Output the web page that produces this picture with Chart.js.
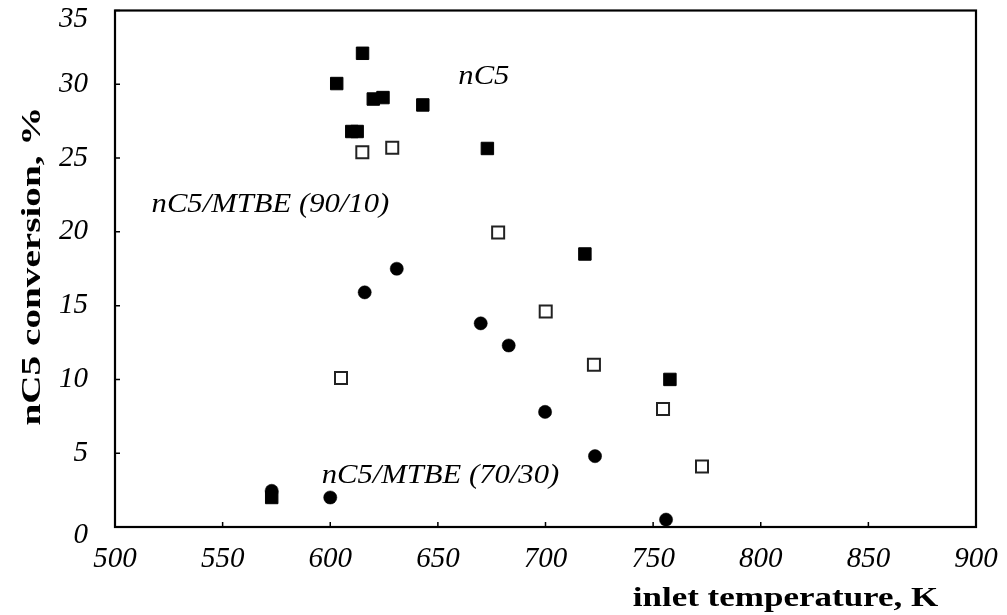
<!DOCTYPE html>
<html>
<head>
<meta charset="utf-8">
<title>nC5 conversion vs inlet temperature</title>
<script src="https://cdn.jsdelivr.net/npm/chart.js@4"></script>
<style>
  html, body { margin: 0; padding: 0; background: #fff; }
  #wrap { width: 1007px; height: 615px; }
</style>
</head>
<body>
<div id="wrap"><canvas id="chartConv"></canvas></div>
<script>
/* =========================
   DATA
========================= */
// nC5 alone - filled squares
const nc5Temp = [615.0, 603.0, 620.0, 624.5, 643.0, 610.0, 612.5, 673.0, 718.3, 757.8, 572.8];
const nc5Conv = [32.1, 30.05, 29.0, 29.1, 28.6, 26.8, 26.8, 25.65, 18.5, 10.0, 2.0];

// nC5/MTBE (90/10) - open squares
const mix9010Temp = [614.9, 628.8, 678.0, 700.1, 605.0, 722.5, 754.6, 772.7];
const mix9010Conv = [25.4, 25.7, 19.95, 14.6, 10.1, 11.0, 8.0, 4.1];

// nC5/MTBE (70/30) - filled circles
const mix7030Temp = [572.8, 600.0, 616.0, 630.9, 669.9, 682.9, 699.8, 723.0, 756.0];
const mix7030Conv = [2.45, 2.0, 15.9, 17.5, 13.8, 12.3, 7.8, 4.8, 0.5];

// axis ranges / ticks
const xMin = 500, xMax = 900, xStep = 50;
const yMin = 0, yMax = 35, yStep = 5;
// end labels of the y axis sit a little below their tick in the figure
const yLowered = [0, 35];

// series labels written inside the plot  [text, x, y]
const seriesNotes = [
  ["nC5", 659.5, 30.5],
  ["nC5/MTBE (90/10)", 517.0, 21.85],
  ["nC5/MTBE (70/30)", 596.0, 3.45]
];

const xTitle = "inlet temperature, K";
const yTitle = "nC5 conversion, %";

/* =========================
   HELPERS
========================= */
const SERIF = '"Liberation Serif", "Times New Roman", serif';

function toPoints(xs, ys) {
  return xs.map((x, i) => ({ x: x, y: ys[i] }));
}

// text in the source figure is a bit wider than Liberation Serif
function wideText(ctx, text, x, y, k) {
  ctx.save();
  ctx.translate(x, y);
  ctx.scale(k, 1);
  ctx.fillText(text, 0, 0);
  ctx.restore();
}

/* =========================
   PLUGIN: frame, inward ticks, text
========================= */
const framePlugin = {
  id: "frame",
  afterDraw(chart) {
    const { ctx, chartArea: a, scales } = chart;
    const sx = scales.x, sy = scales.y;
    ctx.save();

    // box
    ctx.strokeStyle = "#000";
    ctx.lineWidth = 2.2;
    ctx.strokeRect(a.left, a.top, a.right - a.left, a.bottom - a.top);

    // inward tick marks
    ctx.lineWidth = 1.5;
    ctx.beginPath();
    sx.ticks.forEach(t => {
      const px = sx.getPixelForValue(t.value);
      ctx.moveTo(px, a.bottom);
      ctx.lineTo(px, a.bottom - 5);
    });
    sy.ticks.forEach(t => {
      const py = sy.getPixelForValue(t.value);
      ctx.moveTo(a.left, py);
      ctx.lineTo(a.left + 5, py);
    });
    ctx.stroke();

    // series notes
    ctx.fillStyle = "#000";
    ctx.font = "italic 28px " + SERIF;
    ctx.textAlign = "left";
    ctx.textBaseline = "middle";
    seriesNotes.forEach(n => {
      wideText(ctx, n[0], sx.getPixelForValue(n[1]), sy.getPixelForValue(n[2]), 1.095);
    });

    // axis titles
    ctx.font = "bold 28px " + SERIF;
    ctx.textAlign = "center";
    ctx.textBaseline = "alphabetic";
    wideText(ctx, xTitle, 785.5, 606, 1.25);

    ctx.translate(33, 266);
    ctx.rotate(-Math.PI / 2);
    ctx.textBaseline = "middle";
    wideText(ctx, yTitle, 0, 0, 1.4);

    ctx.restore();
  }
};

/* =========================
   CHART
========================= */
const xTickFont = { family: SERIF, size: 29, style: "italic" };
const yTickFont = { family: SERIF, size: 29, style: "italic", lineHeight: 0.6 };

new Chart(document.getElementById("chartConv"), {
  type: "scatter",
  data: {
    datasets: [
      {
        label: "nC5",
        data: toPoints(nc5Temp, nc5Conv),
        pointStyle: "rect",
        pointRadius: 8.8,
        borderWidth: 1,
        backgroundColor: "#000",
        borderColor: "#000"
      },
      {
        label: "nC5/MTBE (90/10)",
        data: toPoints(mix9010Temp, mix9010Conv),
        pointStyle: "rect",
        pointRadius: 8.5,
        borderWidth: 2,
        backgroundColor: "#fff",
        borderColor: "#222"
      },
      {
        label: "nC5/MTBE (70/30)",
        data: toPoints(mix7030Temp, mix7030Conv),
        pointStyle: "circle",
        pointRadius: 6.6,
        borderWidth: 0.5,
        backgroundColor: "#000",
        borderColor: "#000"
      }
    ]
  },
  options: {
    responsive: true,
    maintainAspectRatio: false,
    animation: false,
    layout: { padding: { top: 9.5, right: 31, bottom: 0, left: 0 } },
    plugins: {
      legend: { display: false },
      tooltip: { enabled: false }
    },
    scales: {
      x: {
        type: "linear",
        min: xMin,
        max: xMax,
        grid: { display: false },
        border: { display: false },
        ticks: { stepSize: xStep, color: "#000", font: xTickFont, padding: 7, maxRotation: 0 },
        afterFit(scale) {
          scale.height = 88;
          scale.paddingLeft = 0;
          scale.paddingRight = 0;
        }
      },
      y: {
        min: yMin,
        max: yMax,
        grid: { display: false },
        border: { display: false },
        ticks: {
          stepSize: yStep,
          color: "#000",
          font: yTickFont,
          padding: 19,
          // empty first line pushes the end labels down a bit
          callback: v => yLowered.includes(v) ? ["", String(v)] : String(v)
        },
        afterFit(scale) {
          scale.width = 115;
          scale.paddingTop = 0;
          scale.paddingBottom = 0;
        }
      }
    }
  },
  plugins: [framePlugin]
});
</script>
</body>
</html>
